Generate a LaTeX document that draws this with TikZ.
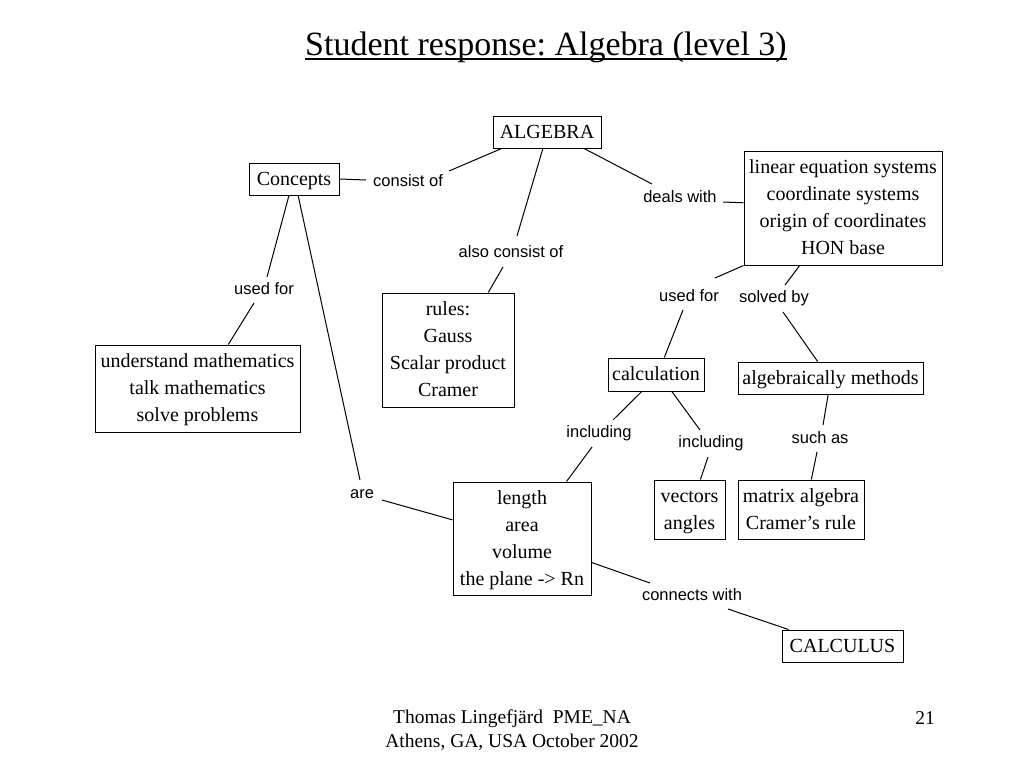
\documentclass[tikz,border=0pt]{standalone}
\usepackage{fontspec}
\setmainfont{Liberation Serif}
\newfontfamily\lblfont{Liberation Sans}
\usetikzlibrary{calc}
\frenchspacing
\begin{document}
\begin{tikzpicture}[x=1pt,y=-1pt,
  box/.style={draw, line width=1pt, inner sep=0pt, align=center, font=\fontsize{20}{27}\selectfont, text depth=0pt, text height=12pt},
  twolines/.style={text height=39pt},
  threelines/.style={text height=66pt},
  fourlines/.style={text height=93pt},
  lbl/.style={inner sep=0pt, font=\lblfont\fontsize{16.5}{18}\selectfont},
  link/.style={line width=1pt}]
\useasboundingbox[fill=white] (0,0) rectangle (1024,768);
% title
\node[font=\fontsize{34}{40}\selectfont, anchor=base, inner sep=0pt] (title) at (546,56) {Student response: Algebra (level 3)};
\draw[line width=1.5pt] ($(title.base west)+(0,3)$) -- ($(title.base east)+(0,3)$);
% boxes
\node[box, minimum width=108pt, minimum height=32pt] (alg) at (547,132) {ALGEBRA};
\node[box, minimum width=90pt, minimum height=32pt] (concepts) at (294,179) {Concepts};
\node[box, fourlines, minimum width=198pt, minimum height=114pt] (lin) at (843,208) {linear equation systems\\coordinate systems\\origin of coordinates\\HON base};
\node[box, fourlines, minimum width=132pt, minimum height=114pt] (rules) at (448,350) {rules:\\Gauss\\Scalar product\\Cramer};
\node[box, threelines, minimum width=205pt, minimum height=87pt] (under) at (197.5,388.5) {understand mathematics\\talk mathematics\\solve problems};
\node[box, minimum width=96pt, minimum height=33pt] (calc) at (656,374.5) {calculation};
\node[box, minimum width=185pt, minimum height=32pt] (algm) at (830.5,378) {algebraically methods};
\node[box, fourlines, minimum width=138pt, minimum height=113pt] (length) at (522,538.5) {length\\area\\volume\\the plane -> Rn};
\node[box, twolines, minimum width=71pt, minimum height=59pt] (vect) at (689.5,509.5) {vectors\\angles};
\node[box, twolines, minimum width=126pt, minimum height=59pt] (matrix) at (801,509.5) {matrix algebra\\Cramer's rule};
\node[box, minimum width=121pt, minimum height=32pt] (calculus) at (842.5,646) {CALCULUS};
% labels
\node[lbl] (consist) at (408,181) {consist of};
\node[lbl] (alsocons) at (511,252) {also consist of};
\node[lbl] (deals) at (680,197) {deals with};
\node[lbl] (usedL) at (264,289) {used for};
\node[lbl] (are) at (362,494) {are};
\node[lbl] (usedR) at (689,296) {used for};
\node[lbl] (solved) at (774,298) {solved by};
\node[lbl] (inclL) at (599,433) {including};
\node[lbl] (inclR) at (711,443) {including};
\node[lbl] (such) at (820,438) {such as};
\node[lbl] (conn) at (692,595) {connects with};
% connectors
\draw[link] (concepts.east) -- ($(consist)+(-42,-1)$);
\draw[link] ($(consist)+(41,-10)$) -- (alg.-160);
\draw[link] (alg.-104) -- ($(alsocons)+(6,-16)$);
\draw[link] ($(alsocons)+(-8,15)$) -- (rules.55.6);
\draw[link] (alg.-24.6) -- ($(deals)+(-28,-13)$);
\draw[link] ($(deals)+(43,5)$) -- (lin.177.1);
\draw[link] (concepts.-107.4) -- ($(usedL)+(3,-12)$);
\draw[link] ($(usedL)+(-10,14)$) -- (under.55);
\draw[link] (concepts.-76) -- ($(are)+(-2,-14)$);
\draw[link] ($(are)+(20,6)$) -- (length.165.2);
\draw[link] (lin.south west) -- ($(usedR)+(26,-18)$);
\draw[link] ($(usedR)+(-6,14)$) -- (calc.64.1);
\draw[link] (lin.-127) -- ($(solved)+(11,-13)$);
\draw[link] ($(solved)+(9,14)$) -- (algm.128);
\draw[link] (calc.-130.3) -- ($(inclL)+(14,-13)$);
\draw[link] ($(inclL)+(-7,14)$) -- (length.52.7);
\draw[link] (calc.-47.7) -- ($(inclR)+(-11,-13)$);
\draw[link] ($(inclR)+(-3,14)$) -- (vect.70.4);
\draw[link] (algm.-98.9) -- ($(such)+(3,-13)$);
\draw[link] ($(such)+(-3,14)$) -- (matrix.71.3);
\draw[link] (length.-19.5) -- ($(conn)+(-42,-12)$);
\draw[link] ($(conn)+(36,14)$) -- (calculus.163);
% footer
\node[font=\fontsize{19.5}{24}\selectfont, align=center, inner sep=0pt] (foot) at (512,730) {Thomas Lingefjärd\ \ PME\_NA\\Athens, GA, USA October 2002};
\node[font=\fontsize{19.5}{24}\selectfont, inner sep=0pt] (page) at (925,718) {21};
\end{tikzpicture}
\end{document}
